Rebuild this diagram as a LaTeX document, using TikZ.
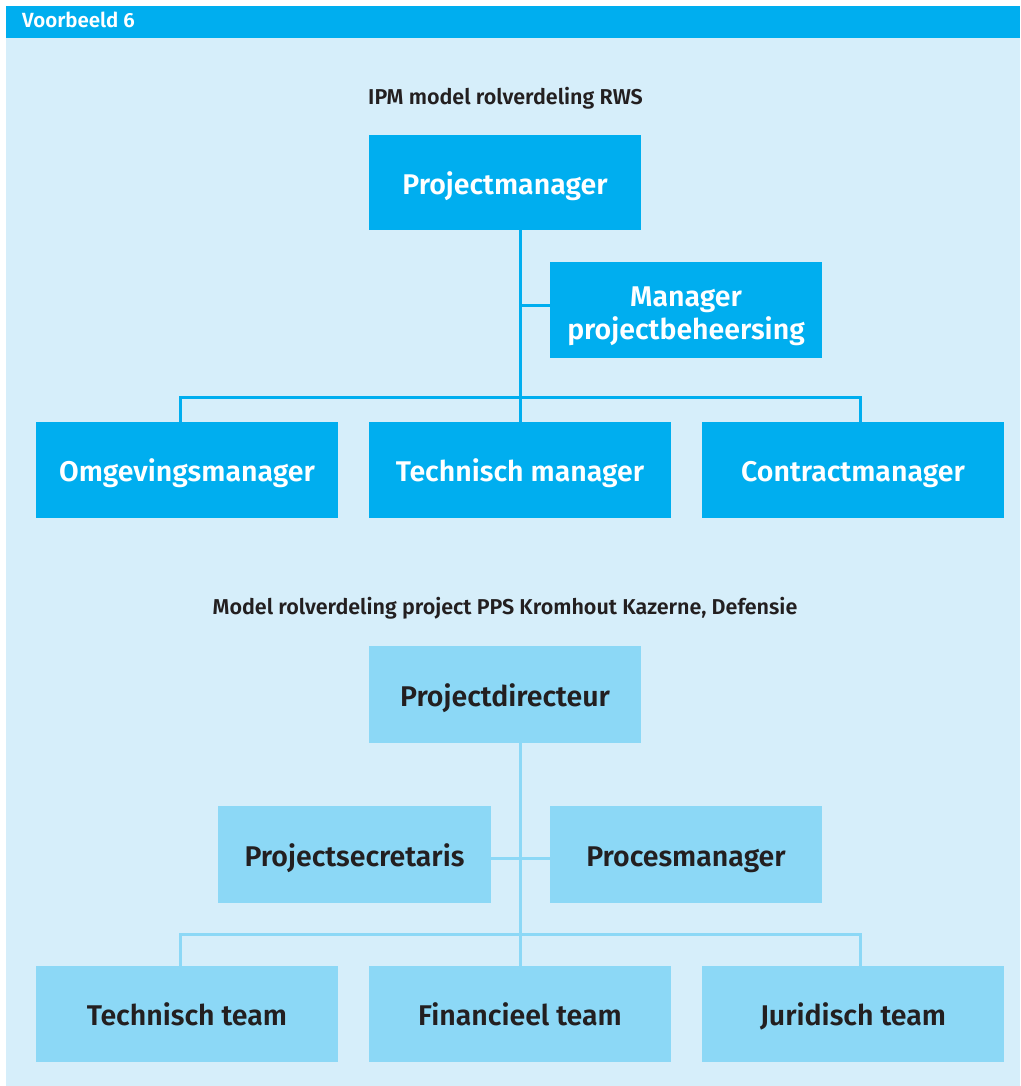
\documentclass[tikz,border=0pt]{standalone}
\usepackage{fontspec}
\setmainfont{Fira Sans}[BoldFont={Fira Sans SemiBold}]
\definecolor{rwsblue}{RGB}{0,174,239}
\definecolor{lightbg}{RGB}{214,238,250}
\definecolor{midblue}{RGB}{140,216,246}
\definecolor{darktext}{RGB}{35,31,32}
\begin{document}
\begin{tikzpicture}[x=1pt,y=-1pt,
  boxtxt/.style={font=\fontsize{28.5}{33}\selectfont\bfseries,align=center,text height=20pt,text depth=0pt,inner sep=0pt,yshift=-1.5pt},
  topbox/.style={fill=rwsblue,draw=none},
  botbox/.style={fill=midblue,draw=none},
  toplbl/.style={boxtxt,text=white},
  botlbl/.style={boxtxt,text=darktext},
  topline/.style={draw=rwsblue,line width=3pt},
  botline/.style={draw=midblue,line width=3pt},
  title/.style={text=darktext,font=\fontsize{21.5}{24}\selectfont\bfseries,inner sep=0pt,text height=15pt,text depth=0pt}]
\useasboundingbox (0,0) rectangle (1020,1086);
\fill[white] (0,0) rectangle (1020,1086);
\fill[lightbg] (6,38) rectangle (1020,1086);
\fill[rwsblue] (6,6) rectangle (1020,38);
\node[anchor=west,text=white,font=\fontsize{20.5}{23}\selectfont\bfseries,inner sep=0pt,text height=14pt,text depth=0pt] (hdr) at (22,20.5) {Voorbeeld 6};
\node[title] (t1) at (505.5,97) {IPM model rolverdeling RWS};
\node[title] (t2) at (505,607) {Model rolverdeling project PPS Kromhout Kazerne, Defensie};
% top chart
\path[topbox] (369,135) rectangle (641,230) node[midway,toplbl] (pm) {Projectmanager};
\path[topbox] (550,262) rectangle (822,358) node[midway,toplbl,yshift=-18pt] (mpb) {Manager\\projectbeheersing};
\path[topbox] (36,422) rectangle (338,518) node[midway,toplbl] (om) {Omgevingsmanager};
\path[topbox] (369,422) rectangle (671,518) node[midway,toplbl] (tm) {Technisch manager};
\path[topbox] (702,422) rectangle (1004,518) node[midway,toplbl] (cm) {Contractmanager};
\coordinate (pmb) at (520.5,230);
\coordinate (tmt) at (520.5,422);
\coordinate (mpbl) at (550,305);
\coordinate (bus1) at (520.5,397);
\coordinate (oml) at (180,422);
\coordinate (cml) at (860,422);
\draw[topline] (pmb) -- (tmt);
\draw[topline] (520.5,305) -- (mpbl);
\draw[topline] (oml) |- (bus1) -| (cml);
% bottom chart
\path[botbox] (369,646) rectangle (641,743) node[midway,botlbl] (pd) {Projectdirecteur};
\path[botbox] (218,806) rectangle (491,903) node[midway,botlbl] (ps) {Projectsecretaris};
\path[botbox] (550,806) rectangle (822,903) node[midway,botlbl] (prm) {Procesmanager};
\path[botbox] (36,966) rectangle (338,1062) node[midway,botlbl] (tt) {Technisch team};
\path[botbox] (369,966) rectangle (671,1062) node[midway,botlbl] (ft) {Financieel team};
\path[botbox] (702,966) rectangle (1004,1062) node[midway,botlbl] (jt) {Juridisch team};
\coordinate (pdb) at (520.5,743);
\coordinate (ftt) at (520.5,966);
\coordinate (psr) at (491,858);
\coordinate (prml) at (550,858);
\coordinate (bus2) at (520.5,934);
\coordinate (ttt) at (180,966);
\coordinate (jtt) at (860,966);
\draw[botline] (pdb) -- (ftt);
\draw[botline] (psr) -- (prml);
\draw[botline] (ttt) |- (bus2) -| (jtt);
\end{tikzpicture}
\end{document}
